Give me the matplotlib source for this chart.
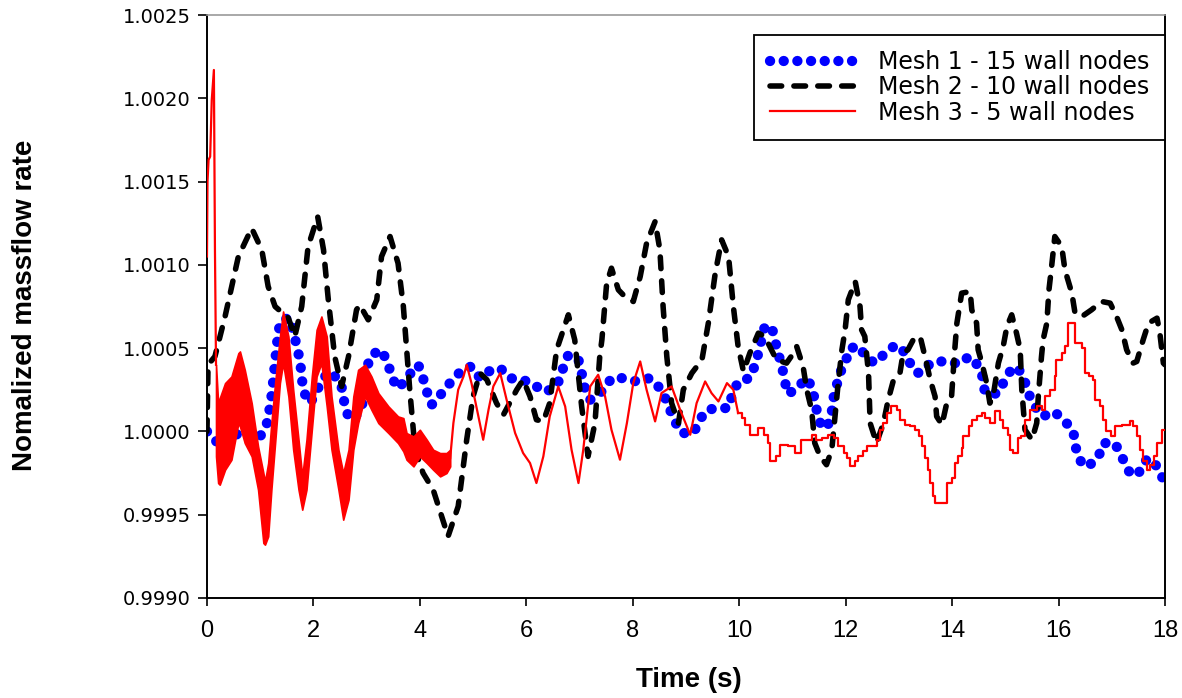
import matplotlib
matplotlib.use("Agg")
import matplotlib.pyplot as plt
from matplotlib.lines import Line2D

# Mesh 1 - 15 wall nodes (blue dots)
t1 = [0.00, 0.09, 0.24, 0.46, 0.78, 1.00, 1.12, 1.18, 1.22, 1.25, 1.28, 1.31, 1.34, 1.40,
      1.56, 1.62, 1.69, 1.75, 1.78, 1.81, 1.94, 2.06, 2.16, 2.31, 2.50, 2.56, 2.59, 2.69,
      2.87, 2.94, 3.00, 3.09, 3.28, 3.38, 3.47, 3.56, 3.69, 3.85, 3.97, 4.06, 4.13, 4.22,
      4.35, 4.47, 4.63, 4.79, 4.97, 5.13, 5.29, 5.51, 5.69, 5.91, 6.13, 6.29, 6.48, 6.63,
      6.70, 6.79, 6.98, 7.04, 7.10, 7.20, 7.32, 7.48, 7.60, 7.82, 8.07, 8.32, 8.48, 8.61,
      8.70, 8.79, 8.92, 9.14, 9.26, 9.39, 9.61, 9.80, 9.86, 9.98, 10.20, 10.30, 10.36,
      10.42, 10.48, 10.61, 10.70, 10.80, 10.86, 10.89, 11.02, 11.27, 11.39, 11.42, 11.49,
      11.55, 11.67, 11.74, 11.77, 11.85, 11.92, 12.02, 12.08, 12.27, 12.36, 12.55, 12.68,
      12.80, 12.96, 13.12, 13.21, 13.34, 13.46, 13.59, 13.80, 14.02, 14.18, 14.31, 14.43,
      14.56, 14.59, 14.68, 14.87, 14.96, 15.09, 15.21, 15.34, 15.41, 15.50, 15.62, 15.71,
      15.90, 16.03, 16.15, 16.28, 16.31, 16.37, 16.47, 16.65, 16.78, 16.84, 17.06, 17.15,
      17.25, 17.34, 17.50, 17.56, 17.69, 17.85, 17.97, 18.00]
v1 = [1.00000, 0.99998, 0.99991, 0.99997, 1.00001, 0.99997, 1.00004, 1.00014, 1.00023,
      1.00032, 1.00042, 1.00051, 1.00060, 1.00067, 1.00068, 1.00060, 1.00051, 1.00042,
      1.00033, 1.00024, 1.00017, 1.00024, 1.00031, 1.00036, 1.00030, 1.00023, 1.00014,
      1.00007, 1.00011, 1.00019, 1.00038, 1.00046, 1.00049, 1.00042, 1.00034, 1.00026,
      1.00029, 1.00036, 1.00040, 1.00032, 1.00024, 1.00016, 1.00020, 1.00026, 1.00031,
      1.00037, 1.00039, 1.00032, 1.00036, 1.00038, 1.00032, 1.00031, 1.00029, 1.00024,
      1.00025, 1.00031, 1.00039, 1.00046, 1.00043, 1.00035, 1.00026, 1.00019, 1.00021,
      1.00026, 1.00032, 1.00032, 1.00030, 1.00032, 1.00027, 1.00020, 1.00013, 1.00006,
      0.99999, 0.99999, 1.00007, 1.00013, 1.00014, 1.00014, 1.00021, 1.00030, 1.00032,
      1.00040, 1.00047, 1.00055, 1.00063, 1.00063, 1.00051, 1.00039, 1.00031, 1.00023,
      1.00024, 1.00032, 1.00025, 1.00017, 1.00009, 1.00002, 1.00004, 1.00012, 1.00020,
      1.00030, 1.00037, 1.00044, 1.00050, 1.00051, 1.00045, 1.00041, 1.00045, 1.00049,
      1.00052, 1.00047, 1.00041, 1.00035, 1.00036, 1.00041, 1.00042, 1.00041, 1.00041,
      1.00045, 1.00042, 1.00035, 1.00026, 1.00022, 1.00023, 1.00029, 1.00036, 1.00039,
      1.00033, 1.00025, 1.00018, 1.00012, 1.00009, 1.00012, 1.00009, 1.00005, 1.00000,
      0.99992, 0.99985, 0.99979, 0.99981, 0.99987, 0.99993, 0.99993, 0.99987, 0.99981,
      0.99975, 0.99974, 0.99980, 0.99984, 0.99979, 0.99971, 0.99970]

# Mesh 2 - 10 wall nodes (black dashes)
t2 = [0.00, 0.02, 0.15, 0.34, 0.59, 0.84, 1.03, 1.15, 1.28, 1.53, 1.65, 1.78, 1.90, 2.08,
      2.19, 2.28, 2.40, 2.53, 2.66, 2.81, 2.87, 3.03, 3.19, 3.28, 3.44, 3.59, 3.69, 3.81,
      3.91, 4.06, 4.25, 4.53, 4.72, 4.88, 5.00, 5.13, 5.26, 5.44, 5.57, 5.82, 5.94, 6.07,
      6.19, 6.32, 6.44, 6.57, 6.79, 6.91, 7.04, 7.16, 7.29, 7.38, 7.42, 7.51, 7.60, 7.73,
      7.85, 8.01, 8.14, 8.26, 8.42, 8.51, 8.57, 8.64, 8.73, 8.86, 8.95, 9.11, 9.30, 9.42,
      9.55, 9.67, 9.80, 9.89, 9.98, 10.08, 10.20, 10.36, 10.48, 10.70, 10.89, 11.02, 11.08,
      11.20, 11.27, 11.36, 11.42, 11.52, 11.64, 11.74, 11.80, 11.86, 11.93, 11.99, 12.05,
      12.18, 12.27, 12.30, 12.36, 12.43, 12.46, 12.58, 12.71, 12.80, 12.90, 13.02, 13.08,
      13.17, 13.27, 13.40, 13.49, 13.59, 13.68, 13.71, 13.81, 13.90, 13.99, 14.05, 14.09,
      14.18, 14.34, 14.37, 14.46, 14.49, 14.56, 14.65, 14.71, 14.77, 14.87, 14.96, 15.03,
      15.12, 15.21, 15.28, 15.31, 15.37, 15.50, 15.59, 15.62, 15.68, 15.71, 15.78, 15.82,
      15.87, 15.93, 16.06, 16.12, 16.25, 16.31, 16.44, 16.62, 16.81, 16.97, 17.09, 17.19,
      17.28, 17.40, 17.47, 17.59, 17.69, 17.85, 17.90, 17.97, 18.00]
v2 = [1.00000, 1.00040, 1.00045, 1.00069, 1.00105, 1.00122, 1.00109, 1.00087, 1.00075,
      1.00068, 1.00057, 1.00075, 1.00111, 1.00129, 1.00109, 1.00079, 1.00045, 1.00027,
      1.00045, 1.00073, 1.00076, 1.00067, 1.00079, 1.00105, 1.00117, 1.00101, 1.00075,
      1.00025, 0.99989, 0.99975, 0.99965, 0.99937, 0.99955, 0.99995, 1.00021, 1.00035,
      1.00031, 1.00017, 1.00010, 1.00025, 1.00031, 1.00021, 1.00007, 1.00006, 1.00017,
      1.00049, 1.00070, 1.00055, 1.00015, 0.99985, 1.00005, 1.00045, 1.00055, 1.00089,
      1.00098, 1.00085, 1.00081, 1.00078, 1.00093, 1.00113, 1.00126, 1.00109, 1.00075,
      1.00045, 1.00017, 1.00005, 1.00025, 1.00035, 1.00043, 1.00065, 1.00095, 1.00115,
      1.00105, 1.00075, 1.00051, 1.00036, 1.00047, 1.00059, 1.00057, 1.00043, 1.00041,
      1.00047, 1.00051, 1.00039, 1.00025, 1.00013, 0.99993, 0.99985, 0.99980, 0.99989,
      1.00009, 1.00029, 1.00049, 1.00061, 1.00079, 1.00090, 1.00075, 1.00061, 1.00057,
      1.00035, 1.00005, 0.99993, 1.00005, 1.00019, 1.00031, 1.00035, 1.00047, 1.00049,
      1.00055, 1.00057, 1.00045, 1.00031, 1.00021, 1.00009, 1.00004, 1.00017, 1.00021,
      1.00049, 1.00065, 1.00083, 1.00084, 1.00073, 1.00065, 1.00049, 1.00041, 1.00029,
      1.00017, 1.00021, 1.00041, 1.00051, 1.00063, 1.00070, 1.00059, 1.00049, 1.00025,
      1.00001, 0.99995, 1.00005, 1.00021, 1.00045, 1.00055, 1.00065, 1.00085, 1.00099,
      1.00117, 1.00111, 1.00097, 1.00083, 1.00071, 1.00069, 1.00073, 1.00078, 1.00077,
      1.00069, 1.00061, 1.00049, 1.00041, 1.00042, 1.00055, 1.00065, 1.00068, 1.00060,
      1.00041, 1.00040]

# Mesh 3 - 5 wall nodes (red): start-up spike
t3_spike = [0.00, 0.01, 0.03, 0.06, 0.09, 0.13, 0.15, 0.17]
v3_spike = [1.00105, 1.00150, 1.00163, 1.00165, 1.00199, 1.00217, 1.00109, 1.00040]

# noisy early part, read as lower / upper envelope
t3_band = [0.17, 0.21, 0.24, 0.34, 0.46, 0.59, 0.62, 0.71, 0.84, 0.96, 1.06, 1.09, 1.15,
           1.21, 1.28, 1.37, 1.43, 1.53, 1.62, 1.72, 1.79, 1.87, 1.97, 2.06, 2.15, 2.25,
           2.34, 2.47, 2.56, 2.66, 2.75, 2.84, 2.97, 3.09, 3.22, 3.41, 3.59, 3.69, 3.75,
           3.88, 4.00, 4.13, 4.25, 4.38, 4.50, 4.57]
v3_lo = [0.99985, 0.99969, 0.99968, 0.99977, 0.99983, 1.00005, 1.00003, 0.99993, 0.99985,
         0.99965, 0.99933, 0.99932, 0.99937, 0.99965, 0.99993, 1.00029, 1.00041, 1.00021,
         0.99989, 0.99965, 0.99953, 0.99965, 1.00001, 1.00033, 1.00041, 1.00015, 0.99989,
         0.99965, 0.99947, 0.99959, 0.99989, 1.00005, 1.00021, 1.00013, 1.00005, 0.99999,
         0.99993, 0.99988, 0.99983, 0.99979, 0.99985, 0.99981, 0.99977, 0.99973, 0.99975,
         0.99979]
v3_hi = [1.00040, 1.00017, 1.00020, 1.00029, 1.00033, 1.00047, 1.00048, 1.00037, 1.00017,
         0.99991, 0.99975, 0.99970, 0.99981, 1.00005, 1.00029, 1.00057, 1.00072, 1.00057,
         1.00025, 0.99995, 0.99973, 0.99995, 1.00033, 1.00061, 1.00069, 1.00057, 1.00021,
         0.99989, 0.99975, 0.99989, 1.00021, 1.00037, 1.00040, 1.00033, 1.00023, 1.00015,
         1.00009, 1.00008, 0.99999, 0.99997, 1.00001, 0.99995, 0.99989, 0.99987, 0.99987,
         0.99989]

# smooth middle part
t3_mid = [4.57, 4.63, 4.72, 4.82, 4.88, 4.97, 5.10, 5.19, 5.29, 5.38, 5.51, 5.63, 5.79,
          5.94, 6.07, 6.19, 6.32, 6.44, 6.60, 6.73, 6.85, 6.98, 7.07, 7.20, 7.35, 7.48,
          7.60, 7.76, 7.89, 8.01, 8.14, 8.26, 8.42, 8.54, 8.73, 8.89, 9.08, 9.20, 9.36,
          9.48, 9.61, 9.77, 9.89, 9.98]
v3_mid = [0.99984, 1.00005, 1.00025, 1.00033, 1.00040, 1.00029, 1.00009, 0.99995, 1.00013,
          1.00027, 1.00035, 1.00019, 0.99999, 0.99987, 0.99981, 0.99969, 0.99985, 1.00009,
          1.00027, 1.00015, 0.99989, 0.99969, 0.99989, 1.00027, 1.00034, 1.00021, 1.00001,
          0.99983, 1.00005, 1.00029, 1.00042, 1.00025, 1.00006, 1.00023, 1.00027, 1.00013,
          0.99998, 1.00017, 1.00030, 1.00023, 1.00018, 1.00029, 1.00025, 1.00011]

# stair-stepped late part
t3_step = [9.98, 10.05, 10.11, 10.20, 10.36, 10.46, 10.55, 10.58, 10.70, 10.77, 10.92,
           11.05, 11.17, 11.36, 11.45, 11.55, 11.67, 11.78, 11.86, 11.96, 12.02, 12.08,
           12.18, 12.23, 12.32, 12.40, 12.58, 12.65, 12.71, 12.77, 12.86, 12.96, 13.02,
           13.11, 13.20, 13.30, 13.38, 13.44, 13.49, 13.55, 13.59, 13.64, 13.68, 13.90,
           13.99, 14.05, 14.11, 14.18, 14.21, 14.31, 14.37, 14.46, 14.56, 14.62, 14.71,
           14.81, 14.90, 14.96, 15.05, 15.09, 15.15, 15.24, 15.30, 15.37, 15.46, 15.59,
           15.68, 15.75, 15.84, 15.93, 15.96, 16.06, 16.12, 16.18, 16.31, 16.44, 16.50,
           16.58, 16.65, 16.68, 16.78, 16.84, 16.90, 16.99, 17.06, 17.20, 17.34, 17.40,
           17.47, 17.53, 17.59, 17.66, 17.72, 17.79, 17.85, 17.94, 18.00]
v3_step = [1.00011, 1.00008, 1.00004, 0.99998, 1.00002, 0.99998, 0.99993, 0.99982, 0.99985,
           0.99992, 0.99991, 0.99987, 0.99995, 0.99998, 0.99995, 0.99996, 0.99998, 0.99996,
           0.99991, 0.99987, 0.99984, 0.99979, 0.99982, 0.99985, 0.99988, 0.99991, 0.99995,
           1.00001, 1.00005, 1.00011, 1.00015, 1.00013, 1.00007, 1.00004, 1.00003, 1.00001,
           0.99997, 0.99991, 0.99984, 0.99977, 0.99969, 0.99961, 0.99957, 0.99969, 0.99972,
           0.99981, 0.99985, 0.99990, 0.99997, 1.00003, 1.00007, 1.00009, 1.00011, 1.00008,
           1.00005, 1.00012, 1.00007, 1.00002, 0.99998, 0.99989, 0.99987, 0.99996, 0.99997,
           1.00007, 1.00013, 1.00015, 1.00013, 1.00021, 1.00025, 1.00033, 1.00043, 1.00047,
           1.00051, 1.00065, 1.00053, 1.00050, 1.00035, 1.00033, 1.00031, 1.00019, 1.00015,
           1.00007, 1.00000, 0.99997, 1.00003, 1.00004, 1.00006, 1.00003, 0.99997, 0.99989,
           0.99982, 0.99977, 0.99980, 0.99985, 0.99993, 1.00001, 1.00001]

labels = ['Mesh 1 - 15 wall nodes', 'Mesh 2 - 10 wall nodes', 'Mesh 3 - 5 wall nodes']

fig = plt.figure(figsize=(11.82, 6.98), dpi=100)
ax = fig.add_axes([0.1751, 0.1433, 0.8105, 0.8352])

blue_style = dict(color='#0000ff', lw=7.4, ls=(0, (0.01, 1.32)), dash_capstyle='round')
black_style = dict(color='black', lw=4.0, ls=(0, (2.1, 2.2)), dash_capstyle='round')
red_style = dict(color='#ff0000', lw=1.6)

ax.plot(t1, v1, **blue_style, zorder=2)
ax.plot(t2, v2, **black_style, zorder=3)
ax.plot(t3_spike, v3_spike, **red_style, zorder=4)
ax.fill_between(t3_band, v3_lo, v3_hi, color='#ff0000', lw=1.2, zorder=4)
ax.plot(t3_mid, v3_mid, **red_style, zorder=4)
ax.plot(t3_step, v3_step, drawstyle='steps-post', **red_style, zorder=4)

ax.set_xlim(0, 18)
ax.set_ylim(0.9990, 1.0025)
ax.set_xticks(range(0, 19, 2))
ax.set_yticks([0.9990, 0.9995, 1.0000, 1.0005, 1.0010, 1.0015, 1.0020, 1.0025])
ax.set_yticklabels(['0.9990', '0.9995', '1.0000', '1.0005', '1.0010', '1.0015',
                    '1.0020', '1.0025'], fontsize=14, family='DejaVu Sans')
ax.set_xticklabels([str(v) for v in range(0, 19, 2)], fontsize=17,
                   family='Liberation Sans')
ax.tick_params(axis='y', direction='out', length=6.5, width=1.2, pad=5)
ax.tick_params(axis='x', direction='out', length=6, width=1.2, pad=10)

for s in ['left', 'bottom', 'right']:
    ax.spines[s].set_linewidth(1.4)
    ax.spines[s].set_color('black')
ax.spines['top'].set_color('#999999')
ax.spines['top'].set_linewidth(1.2)

fig.text(0.5825, 0.026, 'Time (s)', fontsize=20, fontweight='bold',
         family='Liberation Sans', ha='center', va='center')
fig.text(0.021, 0.563, 'Nomalized massflow rate', fontsize=20, fontweight='bold',
         family='Liberation Sans', rotation=90, ha='center', va='center')

handles = [Line2D([], [], **blue_style), Line2D([], [], **black_style),
           Line2D([], [], **red_style)]
leg = ax.legend(handles, labels, loc='upper right', bbox_to_anchor=(1.0, 0.966),
                borderaxespad=0, fontsize=17, handlelength=3.6, handletextpad=1.0,
                labelspacing=0.05, borderpad=0.65, fancybox=False, framealpha=1,
                edgecolor='black')
leg.get_frame().set_linewidth(1.3)

fig.savefig('out.png', dpi=100)
